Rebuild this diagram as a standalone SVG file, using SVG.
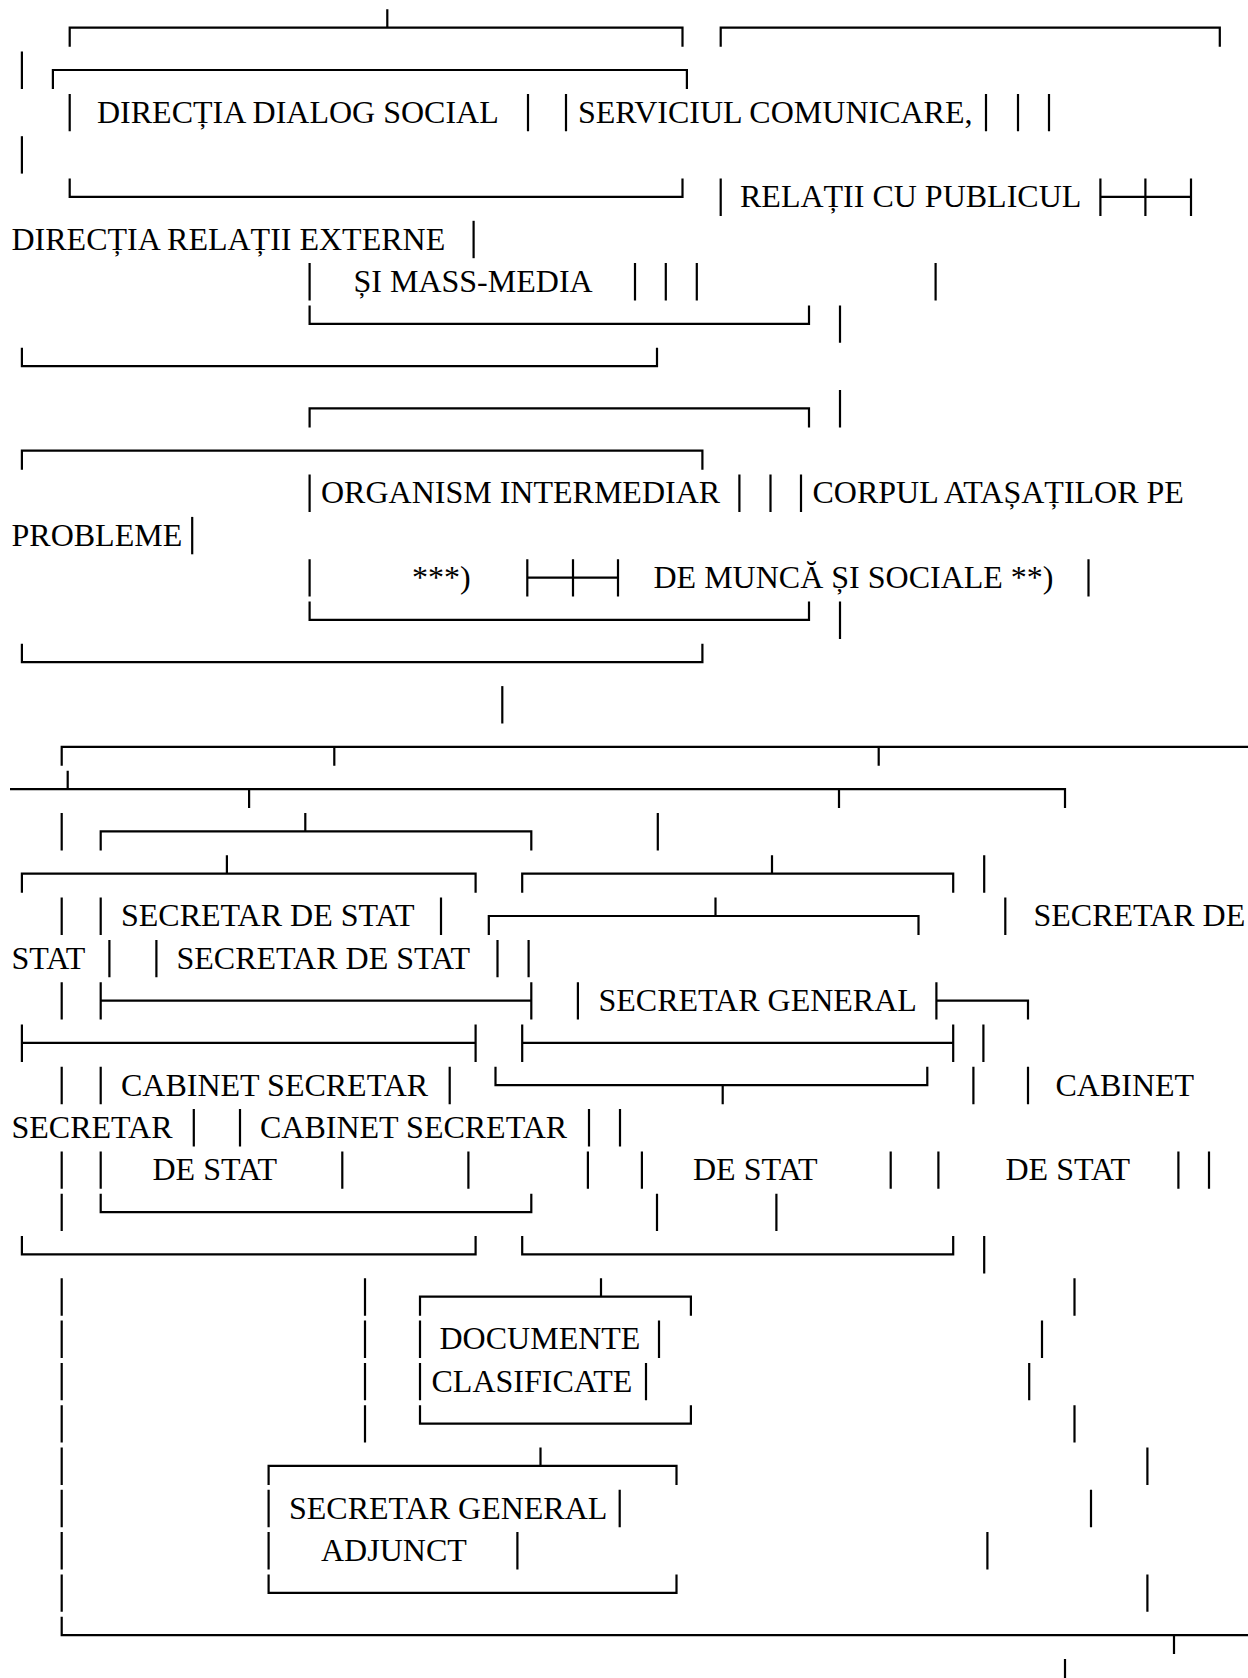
<svg xmlns="http://www.w3.org/2000/svg" width="1248" height="1678" viewBox="0 0 1248 1678">
<style>
.bg{fill:#fff}
.c path{fill:none;stroke:#000;stroke-width:2.2;stroke-linecap:butt;stroke-linejoin:miter}
text{font-family:"Liberation Serif","Times New Roman",serif;font-size:32px;fill:#000}
</style>
<rect class="bg" x="0" y="0" width="1248" height="1678"/>
<g id="connectors" class="c">
<path d="M387.3 9.3V27.7 M69.7 46.7V27.7H682.5V46.7 M720.7 46.7V27.7H1219.8V46.7"/>
<path d="M21.9 51.6V89 M52.9 89V70H686.9V89"/>
<path d="M69.7 93.9V131.3 M528 93.9V131.3 M566 93.9V131.3 M986 93.9V131.3 M1018 93.9V131.3 M1049 93.9V131.3"/>
<path d="M21.9 136.2V173.6"/>
<path d="M69.7 178.5V196.9H682.5V178.5 M720.7 178.5V215.9 M1100.4 178.5V215.9 M1145.4 178.5V215.9 M1191 178.5V215.9 M1100.4 196.9H1191"/>
<path d="M473.6 220.8V258.2"/>
<path d="M309.6 263.1V300.5 M635 263.1V300.5 M665.8 263.1V300.5 M696.8 263.1V300.5 M935.6 263.1V300.5"/>
<path d="M309.6 305.4V323.8H809V305.4 M840 305.4V342.8"/>
<path d="M21.9 347.7V366.1H657V347.7"/>
<path d="M309.6 427.4V408.4H809V427.4 M840 390V427.4"/>
<path d="M21.9 469.7V450.7H702.4V469.7"/>
<path d="M309.6 474.6V512 M739.4 474.6V512 M770.5 474.6V512 M801 474.6V512"/>
<path d="M192.2 516.9V554.3"/>
<path d="M309.6 559.2V596.6 M1088.5 559.2V596.6 M527.3 559.2V596.6 M573 559.2V596.6 M618 559.2V596.6 M527.3 577.6H618"/>
<path d="M309.6 601.5V619.9H809V601.5 M840 601.5V638.9"/>
<path d="M21.9 643.8V662.2H702.4V643.8"/>
<path d="M502.3 686.1V723.5"/>
<path d="M61.7 765.8V746.8H1248 M334.3 746.8V765.8 M878.7 746.8V765.8"/>
<path d="M67.7 770.7V789.1 M10 789.1H1065V808.1 M249.1 789.1V808.1 M839 789.1V808.1"/>
<path d="M61.7 813V850.4 M100.7 850.4V831.4H531.3V850.4 M305.3 813V831.4 M657.8 813V850.4"/>
<path d="M21.9 892.7V873.7H475.6V892.7 M226.9 855.3V873.7 M522.2 892.7V873.7H953.2V892.7 M772 855.3V873.7 M984.2 855.3V892.7"/>
<path d="M61.7 897.6V935 M100.7 897.6V935 M441 897.6V935 M1005.3 897.6V935 M488.8 935V916H918.5V935 M715.5 897.6V916"/>
<path d="M109.4 939.9V977.3 M156.4 939.9V977.3 M497.5 939.9V977.3 M528.6 939.9V977.3"/>
<path d="M61.7 982.2V1019.6 M577.9 982.2V1019.6 M100.7 982.2V1019.6 M531.3 982.2V1019.6 M100.7 1000.6H531.3 M936.4 982.2V1019.6 M936.4 1000.6H1028V1019.6"/>
<path d="M21.9 1024.5V1061.9 M475.6 1024.5V1061.9 M21.9 1042.9H475.6 M522.2 1024.5V1061.9 M953.2 1024.5V1061.9 M522.2 1042.9H953.2 M983.4 1024.5V1061.9"/>
<path d="M61.7 1066.8V1104.2 M100.7 1066.8V1104.2 M449.7 1066.8V1104.2 M973.4 1066.8V1104.2 M1028 1066.8V1104.2 M495.5 1066.8V1085.2H927.3V1066.8 M722.7 1085.2V1104.2"/>
<path d="M193.8 1109.1V1146.5 M240 1109.1V1146.5 M589 1109.1V1146.5 M620 1109.1V1146.5"/>
<path d="M61.7 1151.4V1188.8 M100.7 1151.4V1188.8 M342.3 1151.4V1188.8 M468.4 1151.4V1188.8 M587.9 1151.4V1188.8 M641.9 1151.4V1188.8 M890.7 1151.4V1188.8 M938.4 1151.4V1188.8 M1178.4 1151.4V1188.8 M1209 1151.4V1188.8"/>
<path d="M61.7 1193.7V1231.1 M657 1193.7V1231.1 M776.4 1193.7V1231.1 M100.7 1193.7V1212.1H531.3V1193.7"/>
<path d="M21.9 1236V1254.4H475.6V1236 M522.2 1236V1254.4H953.2V1236 M984.2 1236V1273.4"/>
<path d="M61.7 1278.3V1315.7 M365 1278.3V1315.7 M1074.5 1278.3V1315.7 M420 1315.7V1296.7H690.9V1315.7 M601 1278.3V1296.7"/>
<path d="M61.7 1320.6V1358 M365 1320.6V1358 M420 1320.6V1358 M659 1320.6V1358 M1042 1320.6V1358"/>
<path d="M61.7 1362.9V1400.3 M365 1362.9V1400.3 M420 1362.9V1400.3 M646 1362.9V1400.3 M1029.2 1362.9V1400.3"/>
<path d="M61.7 1405.2V1442.6 M365 1405.2V1442.6 M1074.5 1405.2V1442.6 M420 1405.2V1423.6H690.9V1405.2"/>
<path d="M61.7 1447.5V1484.9 M1147.4 1447.5V1484.9 M268.6 1484.9V1465.9H676.5V1484.9 M540.5 1447.5V1465.9"/>
<path d="M61.7 1489.8V1527.2 M268.6 1489.8V1527.2 M619.7 1489.8V1527.2 M1091 1489.8V1527.2"/>
<path d="M61.7 1532.1V1569.5 M268.6 1532.1V1569.5 M517.4 1532.1V1569.5 M987.4 1532.1V1569.5"/>
<path d="M61.7 1574.4V1611.8 M1147.4 1574.4V1611.8 M268.6 1574.4V1592.8H676.5V1574.4"/>
<path d="M61.7 1616.7V1635.1H1248 M1174 1635.1V1654.1"/>
<path d="M1065 1659V1678"/>
</g>
<g id="n-dialog-social"><text x="97" y="122.6">DIRECȚIA DIALOG SOCIAL</text></g>
<g id="n-serviciul-comunicare"><text x="578" y="122.6">SERVICIUL COMUNICARE,</text><text x="740" y="207.2">RELAȚII CU PUBLICUL</text><text x="353.5" y="291.8">ȘI MASS-MEDIA</text></g>
<g id="n-relatii-externe"><text x="11.5" y="249.5">DIRECȚIA RELAȚII EXTERNE</text><text x="11.5" y="545.6">PROBLEME</text></g>
<g id="n-organism"><text x="321" y="503.3">ORGANISM INTERMEDIAR</text><text x="412" y="587.9">***)</text></g>
<g id="n-corpul"><text x="812.5" y="503.3">CORPUL ATAȘAȚILOR PE</text><text x="653.5" y="587.9">DE MUNCĂ ȘI SOCIALE **)</text></g>
<g id="n-secretar-stat-1"><text x="121" y="926.3">SECRETAR DE STAT</text></g>
<g id="n-secretar-stat-3"><text x="1033.5" y="926.3">SECRETAR DE</text><text x="11.5" y="968.6">STAT</text></g>
<g id="n-secretar-stat-2"><text x="176.5" y="968.6">SECRETAR DE STAT</text></g>
<g id="n-secretar-general"><text x="598.5" y="1010.9">SECRETAR GENERAL</text></g>
<g id="n-cabinet-1"><text x="121" y="1095.5">CABINET SECRETAR</text><text x="152.5" y="1180.1">DE STAT</text></g>
<g id="n-cabinet-3"><text x="1055.5" y="1095.5">CABINET</text><text x="11.5" y="1137.8">SECRETAR</text><text x="1005.5" y="1180.1">DE STAT</text></g>
<g id="n-cabinet-2"><text x="260" y="1137.8">CABINET SECRETAR</text><text x="693" y="1180.1">DE STAT</text></g>
<g id="n-documente"><text x="439.5" y="1349.3">DOCUMENTE</text><text x="431.5" y="1391.6">CLASIFICATE</text></g>
<g id="n-sg-adjunct"><text x="289" y="1518.5">SECRETAR GENERAL</text><text x="321" y="1560.8">ADJUNCT</text></g>
</svg>
